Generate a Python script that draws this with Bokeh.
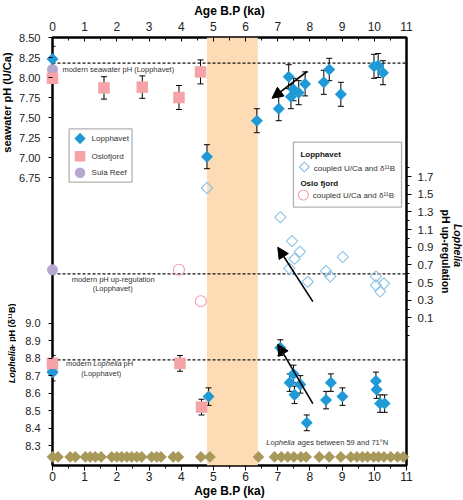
import numpy as np
from bokeh.plotting import figure
from bokeh.layouts import row
from bokeh.models import (Range1d, LinearAxis, FixedTicker, CustomJSTickFormatter,
                          BoxAnnotation, Span, Label, Whisker, TeeHead, Arrow,
                          NormalHead, ColumnDataSource)
from bokeh.embed import file_html
from bokeh.resources import INLINE

FONT = "Liberation Sans"

# ---------------- data ----------------
age_ticks = list(range(0, 12))
age_minor = [0.5, 1.5, 2.5, 3.5, 4.5, 5.5, 6.5, 7.5, 8.5, 9.5, 10.5]

# seawater pH reconstructed from U/Ca
lop_uca_age = [0.0, 4.80, 6.35, 7.03, 7.34, 7.41, 7.49, 7.65, 7.85, 8.43, 8.60, 8.96, 9.99, 10.12, 10.27]
lop_uca_ph = [8.23, 7.01, 7.46, 7.61, 8.01, 7.76, 7.85, 7.81, 7.92, 7.94, 8.10, 7.79, 8.14, 8.15, 8.06]
lop_uca_err = [0.16, 0.15, 0.15, 0.15, 0.15, 0.15, 0.14, 0.15, 0.15, 0.15, 0.14, 0.15, 0.15, 0.15, 0.15]

oslo_uca_age = [0.0, 1.60, 2.79, 3.93, 4.60]
oslo_uca_ph = [7.99, 7.87, 7.88, 7.75, 8.07]
oslo_uca_err = [0.0, 0.14, 0.14, 0.15, 0.15]

sula_uca_age = [0.0]
sula_uca_ph = [8.10]

# Lophelia pH up-regulation (coupled U/Ca and d11B)
lop_up_age = [4.80, 7.08, 7.44, 7.69, 7.52, 7.36, 7.93, 9.02, 8.50, 8.63, 10.05, 10.05, 10.30, 10.18]
lop_up = [1.57, 1.24, 0.97, 0.85, 0.77, 0.66, 0.51, 0.79, 0.63, 0.57, 0.57, 0.47, 0.49, 0.40]

oslo_up_age = [3.93, 4.61]
oslo_up = [0.645, 0.29]

sula_up_age = [0.0]
sula_up = [0.645]

# Lophelia calcifying-fluid pH from d11B
lop_b_age = [0.0, 4.85, 7.08, 7.37, 7.49, 7.52, 7.70, 7.90, 8.50, 8.65, 9.01, 10.05, 10.07, 10.18, 10.32]
lop_b_ph = [8.72, 8.58, 8.86, 8.66, 8.71, 8.59, 8.65, 8.43, 8.56, 8.66, 8.58, 8.67, 8.62, 8.54, 8.54]
lop_b_err = [0.05, 0.05, 0.045, 0.05, 0.05, 0.05, 0.05, 0.045, 0.05, 0.05, 0.05, 0.05, 0.05, 0.05, 0.05]

oslo_b_age = [0.0, 3.96, 4.63]
oslo_b_ph = [8.77, 8.77, 8.52]
oslo_b_err = [0.045, 0.045, 0.045]

sula_b_age = [0.0]
sula_b_ph = [8.725]

# modern reference levels (Lopphavet)
modern_seawater_ph = 8.18
modern_upregulation = 0.60
modern_lophelia_ph = 8.79

# interval without Lophelia occurrences
gap_start, gap_end = 4.80, 6.38

# Lophelia ages between 59 and 71 N
lophelia_ages = [0.0, 0.17, 0.55, 0.71, 1.02, 1.17, 1.33, 1.51, 1.84, 2.0, 2.15, 2.31,
                 2.46, 2.62, 2.77, 3.08, 3.24, 3.37, 3.75, 3.91, 4.61, 4.89, 6.40, 6.90,
                 7.11, 7.31, 7.50, 7.72, 7.88, 8.29, 8.60, 8.96, 9.27, 9.46, 9.63, 9.79,
                 9.98, 10.13, 10.30, 10.51, 10.72, 10.90]
strip_level = 8.235

# trend arrows: (age_start, value_start, age_end, value_end)
arrow_uca = (7.91, 8.075, 6.82, 7.74)
arrow_up = (8.09, 0.285, 7.00, 0.90)
arrow_b = (8.09, 8.54, 7.00, 8.88)

# axis ticks
uca_ticks = [6.75, 7.0, 7.25, 7.5, 7.75, 8.0, 8.25, 8.5]
b_ticks = [8.3, 8.4, 8.5, 8.6, 8.7, 8.8, 8.9, 9.0]
up_ticks = [0.1, 0.3, 0.5, 0.7, 0.9, 1.1, 1.3, 1.5, 1.7]
up_minor = [-0.1, 0.0, 0.2, 0.4, 0.6, 0.8, 1.0, 1.2, 1.4, 1.6, 1.8]

# ---------------- colours ----------------
BLUE = "#1f9ad6"
PINK = "#f5a3a6"
LAVENDER = "#b6a8d0"
OPEN_BLUE = "#8dc2e8"
OPEN_PINK = "#f0a0aa"
OLIVE = "#a8995a"
BAND = "#fddcb5"
TEXT = "#333333"

# ---------------- layout geometry (px) ----------------
W, H = 463, 500
LEFT_STRIP, RIGHT_STRIP = 16, 26
MAIN_W = W - LEFT_STRIP - RIGHT_STRIP
FL, FT, FW, FH = 50, 37, 356, 428      # plot frame in page pixels

x_rng = Range1d(0, 11)
y_uca = Range1d(3.15, 8.50)
y_up = Range1d(-1.568, 3.272)
y_b = Range1d(8.186, 10.634)

p = figure(width=MAIN_W, height=H, x_range=x_rng, y_range=y_uca,
           output_backend="svg", toolbar_location=None,
           min_border_left=FL - LEFT_STRIP, min_border_right=MAIN_W - (FL - LEFT_STRIP) - FW,
           min_border_top=FT, min_border_bottom=H - FT - FH)
p.extra_y_ranges = {"up": y_up, "b": y_b}
p.xgrid.visible = False
p.ygrid.visible = False
p.outline_line_color = "black"
p.outline_line_width = 2.5
p.background_fill_color = "white"
p.border_fill_color = "white"


def xdat(px):
    return x_rng.start + (px - FL) / FW * (x_rng.end - x_rng.start)


def ydat(py, rng=y_uca):
    return rng.end - (py - FT) / FH * (rng.end - rng.start)


def b_to_uca(v):
    return y_uca.start + (v - y_b.start) * (y_uca.end - y_uca.start) / (y_b.end - y_b.start)


def style_axis(ax, size):
    ax.axis_line_color = None
    ax.major_label_text_font = FONT
    ax.major_label_text_font_size = size
    ax.major_label_text_color = "#222222"
    ax.major_tick_line_color = "black"
    ax.minor_tick_line_color = "black"
    ax.major_tick_line_width = 1
    ax.minor_tick_line_width = 1
    ax.axis_label_text_font = FONT
    ax.axis_label_text_font_style = "bold"
    ax.axis_label_text_color = "black"


# left axis carries both pH scales
left = p.yaxis[0]
left.ticker = FixedTicker(ticks=uca_ticks + [b_to_uca(v) for v in b_ticks], minor_ticks=[])
left.formatter = CustomJSTickFormatter(
    args=dict(u0=y_uca.start, u1=y_uca.end, b0=y_b.start, b1=y_b.end),
    code="""
    if (tick > 6.0) { return tick.toFixed(2); }
    const v = b0 + (tick - u0) * (b1 - b0) / (u1 - u0);
    return v.toFixed(1);
    """)
style_axis(left, "11px")
left.major_tick_out = 4
left.major_tick_in = 0
left.major_label_standoff = 8

bottom = p.xaxis[0]
bottom.ticker = FixedTicker(ticks=age_ticks, minor_ticks=age_minor)
bottom.formatter = CustomJSTickFormatter(code="return tick.toFixed(0);")
style_axis(bottom, "12px")
bottom.major_tick_out = 5
bottom.major_tick_in = 0
bottom.minor_tick_out = 3
bottom.minor_tick_in = 0
bottom.major_label_standoff = 1
bottom.axis_label = "Age B.P (ka)"
bottom.axis_label_text_font_size = "12px"
bottom.axis_label_standoff = 0

top = LinearAxis(ticker=FixedTicker(ticks=age_ticks, minor_ticks=age_minor),
                 formatter=CustomJSTickFormatter(code="return tick.toFixed(0);"))
style_axis(top, "12px")
top.major_tick_out = 0
top.major_tick_in = 4
top.minor_tick_out = 0
top.minor_tick_in = 3
top.major_label_standoff = 7
top.axis_label = "Age B.P (ka)"
top.axis_label_text_font_size = "12px"
top.axis_label_standoff = 1
p.add_layout(top, "above")

right = LinearAxis(y_range_name="up",
                   ticker=FixedTicker(ticks=up_ticks, minor_ticks=up_minor),
                   formatter=CustomJSTickFormatter(code="return tick.toFixed(1);"))
style_axis(right, "11.5px")
right.major_tick_out = 5
right.major_tick_in = 0
right.minor_tick_out = 3
right.minor_tick_in = 0
right.major_label_standoff = 6
p.add_layout(right, "right")

# shaded interval
p.add_layout(BoxAnnotation(left=gap_start, right=gap_end, fill_color=BAND, fill_alpha=1.0,
                           line_color=None, level="underlay"))

# modern reference lines
for loc, rng_name in [(modern_seawater_ph, "default"), (modern_upregulation, "up"),
                      (modern_lophelia_ph, "b")]:
    p.add_layout(Span(location=loc, dimension="width", y_range_name=rng_name,
                      line_color="#111111", line_width=1.2, line_dash="3 2", level="underlay"))


def whiskers(xs, ys, errs, rng_name):
    src = ColumnDataSource(dict(x=xs, lo=list(np.array(ys) - np.array(errs)),
                                hi=list(np.array(ys) + np.array(errs))))
    p.add_layout(Whisker(source=src, base="x", lower="lo", upper="hi", dimension="height",
                         y_range_name=rng_name, line_color="black", line_width=1,
                         upper_head=TeeHead(size=6, line_color="black", line_width=1),
                         lower_head=TeeHead(size=6, line_color="black", line_width=1),
                         level="underlay"))


whiskers(lop_uca_age, lop_uca_ph, lop_uca_err, "default")
whiskers(oslo_uca_age, oslo_uca_ph, oslo_uca_err, "default")
whiskers(lop_b_age, lop_b_ph, lop_b_err, "b")
whiskers(oslo_b_age, oslo_b_ph, oslo_b_err, "b")

DIAMOND = dict(marker="square", angle=np.pi / 4)
# markers sit on the age-zero axis line, so they are drawn unclipped above the frame
MARK = dict(level="guide")

# U/Ca seawater pH
p.scatter(sula_uca_age, sula_uca_ph, marker="circle", size=11, fill_color=LAVENDER,
          line_color=None, **MARK)
p.scatter(lop_uca_age, lop_uca_ph, size=8.5, fill_color=BLUE, line_color=None, **DIAMOND, **MARK)
p.scatter(oslo_uca_age, oslo_uca_ph, marker="square", size=11.5, fill_color=PINK,
          line_color=None, **MARK)

# pH up-regulation
p.scatter(sula_up_age, sula_up, marker="circle", size=11, fill_color=LAVENDER, line_color=None,
          y_range_name="up", **MARK)
p.scatter(lop_up_age, lop_up, size=8, fill_color=None, line_color=OPEN_BLUE, line_width=1.1,
          y_range_name="up", **DIAMOND, **MARK)
p.scatter(oslo_up_age, oslo_up, marker="circle", size=11, fill_color=None, line_color=OPEN_PINK,
          line_width=1.1, y_range_name="up", **MARK)

# d11B Lophelia pH
p.scatter(sula_b_age, sula_b_ph, marker="circle", size=11, fill_color=LAVENDER, line_color=None,
          y_range_name="b", **MARK)
p.scatter(lop_b_age, lop_b_ph, size=8.5, fill_color=BLUE, line_color=None, y_range_name="b",
          **DIAMOND, **MARK)
p.scatter(oslo_b_age, oslo_b_ph, marker="square", size=11.5, fill_color=PINK, line_color=None,
          y_range_name="b", **MARK)

# Lophelia occurrence ages
p.scatter(lophelia_ages, [strip_level] * len(lophelia_ages), size=8.3, fill_color=OLIVE,
          line_color=None, y_range_name="b", **DIAMOND, **MARK)

# trend arrows
for (xa, ya, xb, yb), rng_name in [(arrow_uca, "default"), (arrow_up, "up"), (arrow_b, "b")]:
    p.add_layout(Arrow(end=NormalHead(size=11, fill_color="black", line_color="black", line_width=1),
                       x_start=xa, y_start=ya, x_end=xb, y_end=yb, y_range_name=rng_name,
                       line_color="black", line_width=1.6))


def label(text, px, py, size="7.5px", align="left", style="normal", color=TEXT, angle=0.0):
    p.add_layout(Label(x=xdat(px), y=ydat(py), text=text, text_font=FONT, text_font_size=size,
                       text_font_style=style, text_color=color, text_align=align,
                       text_baseline="middle", angle=angle))


# reference-line notes
label("modern seawater pH (Lopphavet)", 60, 68.5)
label("modern pH up-regulation", 111, 279, align="center")
label("(Lopphavet)", 110.5, 288, align="center")
label("modern", 63.5, 363)
label("Lophelia", 91, 363, style="italic")
label("pH", 121.5, 363)
label("(Lopphavet)", 99, 372.5, align="center")
label("Lophelia", 265, 441.7, style="italic")
label("ages between 59 and 71°N", 296.5, 441.7)

# legend: sites
p.add_layout(BoxAnnotation(left=xdat(66.7), right=xdat(130), top=ydat(128.3), bottom=ydat(181.7),
                           fill_color="white", fill_alpha=1.0, line_color="black", line_width=1.3,
                           level="underlay"))
p.scatter([xdat(77.7)], [ydat(138)], size=8, fill_color=BLUE, line_color=None, **DIAMOND)
p.scatter([xdat(77.7)], [ydat(155.7)], marker="square", size=10.5, fill_color=PINK, line_color=None)
p.scatter([xdat(77.7)], [ydat(172.3)], marker="circle", size=10.5, fill_color=LAVENDER, line_color=None)
label("Lopphavet", 89.3, 138, size="8px")
label("Oslofjord", 89.3, 155.7, size="8px")
label("Sula Reef", 89.3, 172.3, size="8px")

# legend: coupled proxies
p.add_layout(BoxAnnotation(left=xdat(292.3), right=xdat(401), top=ydat(141.7), bottom=ydat(206.7),
                           fill_color="white", fill_alpha=1.0, line_color="black", line_width=1.3,
                           level="underlay"))
p.scatter([xdat(303.3)], [ydat(166.5)], size=7, fill_color=None, line_color=OPEN_BLUE,
          line_width=1.1, **DIAMOND)
p.scatter([xdat(302.3)], [ydat(194.5)], marker="circle", size=10, fill_color=None,
          line_color=OPEN_PINK, line_width=1.1)
label("Lopphavet", 299.3, 153.5, size="8px", style="bold", color="#111111")
label("coupled U/Ca and δ¹¹B", 312.7, 167.5, size="8px")
label("Oslo fjord", 299.3, 182.7, size="8px", style="bold", color="#111111")
label("coupled U/Ca and δ¹¹B", 311.7, 195, size="8px")


# ---------------- side strips holding the vertical axis titles ----------------
def strip(width):
    s = figure(width=width, height=H, x_range=Range1d(0, width), y_range=Range1d(0, H),
               output_backend="svg", toolbar_location=None,
               x_axis_location=None, y_axis_location=None, min_border=0)
    s.xgrid.visible = False
    s.ygrid.visible = False
    s.outline_line_color = None
    s.background_fill_color = "white"
    s.border_fill_color = "white"
    return s


def strip_label(s, text, sx, py, size, style, align, angle):
    s.add_layout(Label(x=sx, y=H - py, text=text, text_font=FONT, text_font_size=size,
                       text_font_style=style, text_color="black", text_align=align,
                       text_baseline="middle", angle=angle))


ls = strip(LEFT_STRIP)
strip_label(ls, "seawater pH (U/Ca)", 6, 76, "11px", "bold", "center", np.pi / 2)
strip_label(ls, "Lophelia", 11, 404, "9px", "bold italic", "left", np.pi / 2)
strip_label(ls, "- pH (δ¹¹B)", 11, 362, "9px", "bold", "left", np.pi / 2)

rs = strip(RIGHT_STRIP)
strip_label(rs, "pH up-regulation", 8, 250, "10.5px", "bold", "center", -np.pi / 2)
strip_label(rs, "Lophelia", 20, 243, "10.5px", "bold italic", "center", -np.pi / 2)

page = row(ls, p, rs, spacing=0)
open("out.html", "w").write(file_html(page, INLINE))
